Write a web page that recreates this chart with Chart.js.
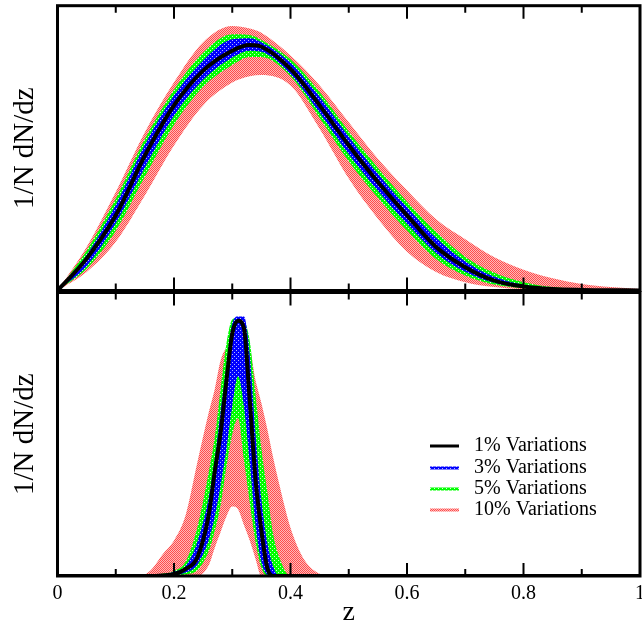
<!DOCTYPE html>
<html lang="en">
<head>
<meta charset="UTF-8">
<title>1/N dN/dz variations</title>
<style>
    body { margin: 0; background: #fff; }
    #wrap { position: relative; width: 642px; height: 623px; overflow: hidden; }
    .panel { position: absolute; left: 0; width: 642px; }
    #topPanel { top: 0; height: 292px; }
    #botPanel { top: 290px; height: 333px; }
</style>
<script src="https://cdn.jsdelivr.net/npm/chart.js@4.4.1/dist/chart.umd.min.js"></script>
</head>
<body>
<div id="wrap">
    <div id="topPanel" class="panel"><canvas id="topChart"></canvas></div>
    <div id="botPanel" class="panel"><canvas id="botChart"></canvas></div>
</div>
<script>
    // ---- data (y normalised to panel height) ----
    const seriesLabels = ['1% Variations', '3% Variations', '5% Variations', '10% Variations'];
    const xTicks = [0, 0.2, 0.4, 0.6, 0.8, 1];
    const xMinorTicks = [0.1, 0.3, 0.5, 0.7, 0.9];
    const yTitle = '1/N dN/dz';
    const xTitle = 'z';

    // top panel: broad distribution
    const zTop     = [0, 0.05, 0.1, 0.15, 0.2, 0.25, 0.3, 0.33, 0.35, 0.4, 0.45, 0.5, 0.55, 0.6, 0.65, 0.7, 0.75, 0.8, 0.85, 0.9, 0.95, 1.0];
    const top1     = [0, 0.112, 0.264, 0.474, 0.650, 0.772, 0.842, 0.862, 0.856, 0.778, 0.650, 0.510, 0.381, 0.264, 0.153, 0.082, 0.035, 0.014, 0.005, 0.002, 0.001, 0];
    const top3Hi   = [0, 0.125, 0.300, 0.512, 0.685, 0.808, 0.882, 0.886, 0.872, 0.800, 0.680, 0.540, 0.410, 0.292, 0.184, 0.102, 0.048, 0.020, 0.008, 0.003, 0.001, 0];
    const top3Lo   = [0, 0.086, 0.236, 0.432, 0.614, 0.740, 0.818, 0.842, 0.838, 0.760, 0.624, 0.478, 0.350, 0.234, 0.131, 0.066, 0.027, 0.010, 0.004, 0.001, 0, 0];
    const top5Hi   = [0, 0.140, 0.322, 0.532, 0.705, 0.835, 0.900, 0.897, 0.880, 0.812, 0.697, 0.558, 0.430, 0.312, 0.205, 0.118, 0.062, 0.029, 0.012, 0.005, 0.002, 0];
    const top5Lo   = [0, 0.076, 0.210, 0.400, 0.582, 0.715, 0.792, 0.820, 0.820, 0.752, 0.606, 0.454, 0.326, 0.211, 0.111, 0.053, 0.021, 0.008, 0.003, 0.001, 0, 0];
    const top10Hi  = [0, 0.153, 0.346, 0.556, 0.731, 0.872, 0.929, 0.920, 0.905, 0.825, 0.720, 0.591, 0.463, 0.352, 0.250, 0.180, 0.117, 0.073, 0.043, 0.023, 0.012, 0.005];
    const top10Lo  = [0, 0.065, 0.171, 0.334, 0.509, 0.650, 0.730, 0.752, 0.757, 0.720, 0.568, 0.393, 0.252, 0.136, 0.065, 0.029, 0.012, 0.004, 0.001, 0, 0, 0];

    // bottom panel: narrow peak
    const zBot     = [0, 0.10, 0.12, 0.14, 0.16, 0.18, 0.20, 0.22, 0.24, 0.26, 0.27, 0.28, 0.29, 0.30, 0.31, 0.32, 0.33, 0.34, 0.35, 0.36, 0.37, 0.38, 0.40, 0.42, 0.44, 0.46, 0.48, 0.50, 1.0];
    const bot1     = [0, 0, 0, 0, 0, 0.002, 0.006, 0.025, 0.065, 0.220, 0.370, 0.505, 0.690, 0.855, 0.900, 0.875, 0.620, 0.340, 0.160, 0.030, 0, 0, 0, 0, 0, 0, 0, 0, 0];
    const bot3Hi   = [0, 0, 0, 0, 0, 0.005, 0.015, 0.035, 0.120, 0.280, 0.410, 0.580, 0.736, 0.890, 0.915, 0.915, 0.780, 0.500, 0.270, 0.120, 0.035, 0, 0, 0, 0, 0, 0, 0, 0];
    const bot3Lo   = [0, 0, 0, 0, 0, 0, 0.003, 0.012, 0.040, 0.130, 0.210, 0.320, 0.450, 0.600, 0.705, 0.600, 0.400, 0.180, 0.050, 0.005, 0, 0, 0, 0, 0, 0, 0, 0, 0];
    const bot5Hi   = [0, 0, 0, 0, 0.003, 0.008, 0.018, 0.050, 0.170, 0.370, 0.490, 0.660, 0.820, 0.905, 0.910, 0.900, 0.830, 0.640, 0.450, 0.300, 0.150, 0.070, 0, 0, 0, 0, 0, 0, 0];
    const bot5Lo   = [0, 0, 0, 0, 0, 0, 0, 0.005, 0.020, 0.090, 0.160, 0.250, 0.385, 0.500, 0.556, 0.410, 0.260, 0.120, 0.030, 0, 0, 0, 0, 0, 0, 0, 0, 0, 0];
    const bot10Hi  = [0, 0, 0, 0, 0.020, 0.075, 0.125, 0.215, 0.400, 0.580, 0.660, 0.760, 0.800, 0.800, 0.800, 0.800, 0.795, 0.690, 0.610, 0.520, 0.420, 0.330, 0.170, 0.070, 0.020, 0.002, 0, 0, 0];
    const bot10Lo  = [0, 0, 0, 0, 0, 0, 0, 0, 0, 0.040, 0.100, 0.155, 0.210, 0.245, 0.235, 0.180, 0.125, 0.060, 0, 0, 0, 0, 0, 0, 0, 0, 0, 0, 0];

    Chart.defaults.font.family = "'Liberation Serif', 'Times New Roman', serif";

    // dotted fills like the halftone bands of the original
    function makePatterns(canvas) {
        const ctx = canvas.getContext('2d');
        const tile = (size, base, dot, dots) => {
            const c = document.createElement('canvas');
            c.width = c.height = size;
            const g = c.getContext('2d');
            g.fillStyle = base;
            g.fillRect(0, 0, size, size);
            g.fillStyle = dot;
            dots.forEach(([x, y]) => g.fillRect(x, y, 1, 1));
            return ctx.createPattern(c, 'repeat');
        };
        return {
            blue: tile(4, '#0000ff', '#b4b4ff', [[0, 0], [2, 2]]),
            green: tile(4, '#00ff00', '#d6ffd6', [[0, 0], [2, 2]]),
            red: tile(2, '#ff4c4c', '#ffb8b8', [[1, 0], [0, 1]])
        };
    }

    const pts = (z, arr) => z.map((v, i) => ({ x: v, y: arr[i] }));

    function makeDatasets(z, c1, hi3, lo3, hi5, lo5, hi10, lo10, pat) {
        const base = { pointRadius: 0, cubicInterpolationMode: 'monotone' };
        const edge = { ...base, borderColor: 'transparent', borderWidth: 0 };
        return [
            { ...base, label: seriesLabels[0], data: pts(z, c1), borderColor: '#000', borderWidth: 4, fill: false },
            { ...edge, label: seriesLabels[1], data: pts(z, hi3), backgroundColor: pat.blue, fill: '+1' },
            { ...edge, data: pts(z, lo3), fill: false },
            { ...edge, label: seriesLabels[2], data: pts(z, hi5), backgroundColor: pat.green, fill: '+1' },
            { ...edge, data: pts(z, lo5), fill: false },
            { ...edge, label: seriesLabels[3], data: pts(z, hi10), backgroundColor: pat.red, fill: '+1' },
            { ...edge, data: pts(z, lo10), fill: false }
        ];
    }

    // frame, inward ticks, titles, tick labels and the legend
    const decor = {
        id: 'decor',
        afterDraw(chart, args, opts) {
            const { ctx, chartArea: a, scales: { x } } = chart;
            ctx.save();
            ctx.strokeStyle = '#000';
            ctx.fillStyle = '#000';
            ctx.lineWidth = 2;
            xTicks.concat(xMinorTicks).forEach(v => {
                if (v === 0 || v === 1) return;
                const px = x.getPixelForValue(v);
                const len = xTicks.includes(v) ? 13 : 7;
                ctx.beginPath();
                ctx.moveTo(px, a.top); ctx.lineTo(px, a.top + len);
                ctx.moveTo(px, a.bottom); ctx.lineTo(px, a.bottom - len);
                ctx.stroke();
            });
            ctx.lineWidth = 3;
            ctx.strokeRect(a.left, a.top, a.right - a.left, a.bottom - a.top);

            // y title
            ctx.font = "29px 'Liberation Serif'";
            ctx.textAlign = 'center';
            ctx.textBaseline = 'alphabetic';
            ctx.save();
            ctx.translate(33, (a.top + a.bottom) / 2);
            ctx.rotate(-Math.PI / 2);
            ctx.fillText(yTitle, 0, 0);
            ctx.restore();

            if (opts.xLabels) {
                ctx.font = "20px 'Liberation Serif'";
                xTicks.forEach(v => ctx.fillText(String(v), x.getPixelForValue(v), a.bottom + 23));
                ctx.font = "28px 'Liberation Serif'";
                ctx.fillText(xTitle, x.getPixelForValue(0.5), a.bottom + 44);
            }

            if (opts.legend) {
                const pat = opts.patterns;
                const styles = ['#000', pat.blue, pat.green, pat.red];
                ctx.font = "20px 'Liberation Serif'";
                ctx.textAlign = 'left';
                ctx.textBaseline = 'middle';
                const rows = [156, 178, 199, 220];
                seriesLabels.forEach((lab, i) => {
                    ctx.strokeStyle = styles[i];
                    ctx.lineWidth = 3;
                    ctx.beginPath();
                    ctx.moveTo(430, rows[i]); ctx.lineTo(459, rows[i]);
                    ctx.stroke();
                    ctx.fillText(lab, 474, rows[i]);
                });
            }
            ctx.restore();
        }
    };

    function makeChart(id, datasets, padding, pluginOpts) {
        return new Chart(document.getElementById(id), {
            type: 'line',
            data: { datasets },
            options: {
                responsive: true,
                maintainAspectRatio: false,
                devicePixelRatio: 1,
                animation: false,
                layout: { padding },
                scales: {
                    x: { type: 'linear', min: 0, max: 1, display: false },
                    y: { min: 0, max: 1, display: false }
                },
                plugins: {
                    legend: { display: false },
                    tooltip: { enabled: false },
                    decor: pluginOpts
                }
            },
            plugins: [decor]
        });
    }

    const topPat = makePatterns(document.getElementById('topChart'));
    const botPat = makePatterns(document.getElementById('botChart'));

    makeChart('topChart',
        makeDatasets(zTop, top1, top3Hi, top3Lo, top5Hi, top5Lo, top10Hi, top10Lo, topPat),
        { left: 57.5, right: 2, top: 5.7, bottom: 1.5 },
        { xLabels: false, legend: false, patterns: topPat });

    makeChart('botChart',
        makeDatasets(zBot, bot1, bot3Hi, bot3Lo, bot5Hi, bot5Lo, bot10Hi, bot10Lo, botPat),
        { left: 57.5, right: 2, top: 2.5, bottom: 47 },
        { xLabels: true, legend: true, patterns: botPat });
</script>
</body>
</html>
